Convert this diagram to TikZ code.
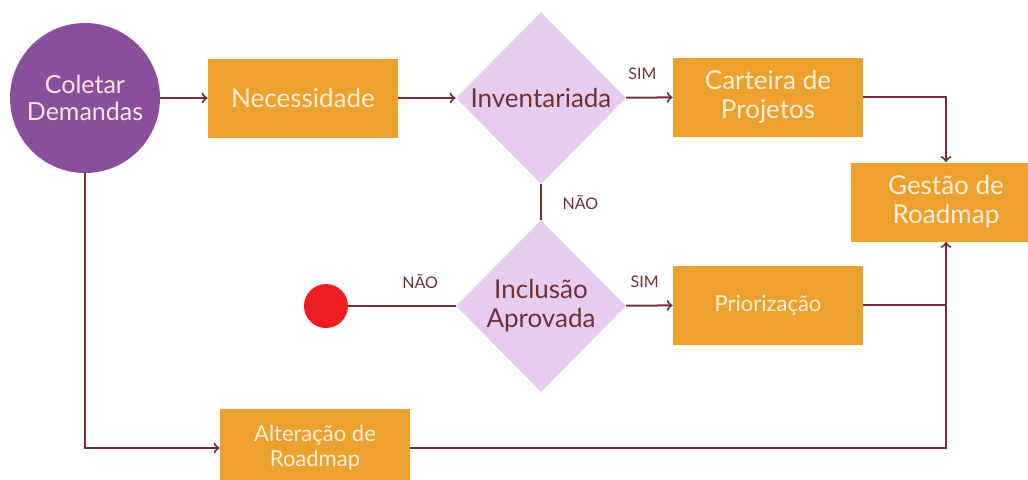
\documentclass[tikz,border=0pt]{standalone}
\usepackage{fontspec}
\setmainfont{Lato}
\usetikzlibrary{shapes.geometric}
\definecolor{roxo}{RGB}{138,79,155}
\definecolor{laranja}{RGB}{236,161,46}
\definecolor{lilas}{RGB}{230,205,240}
\definecolor{creme}{RGB}{253,238,214}
\definecolor{rosado}{RGB}{250,226,226}
\definecolor{vinho}{RGB}{112,48,52}
\definecolor{vermelho}{RGB}{238,32,36}
\begin{document}
\begin{tikzpicture}[x=0.5pt, y=-0.5pt,
    caixa/.style={rectangle, fill=laranja, text=creme, minimum width=95pt, minimum height=39.5pt, align=center, font=\fontsize{13}{14.5}\selectfont},
    decisao/.style={diamond, fill=lilas, text=vinho, minimum width=85pt, minimum height=86pt, inner sep=0pt, align=center, font=\fontsize{13}{14.5}\selectfont},
    rotulo/.style={text=vinho, font=\fontsize{8}{9}\selectfont},
    liga/.style={draw=vinho, line width=1pt}]
    \useasboundingbox (0,0) rectangle (1028,479);
    \node [circle, fill=roxo, text=rosado, minimum size=75pt, inner sep=0pt, align=center, font=\fontsize{12.5}{13.5}\selectfont] (coletar) at (85,98) {Coletar\\Demandas};
    \node [caixa] (necessidade) at (303,98) {Necessidade};
    \node [decisao] (inventariada) at (541,98) {Inventariada};
    \node [caixa] (carteira) at (768,97) {Carteira de\\Projetos};
    \node [caixa] (gestao) at (946,202) {Gestão de\\Roadmap};
    \node [decisao] (inclusao) at (541,306) {Inclusão\\Aprovada};
    \node [circle, fill=vermelho, minimum size=22pt, inner sep=0pt] (fim) at (326,306) {};
    \node [caixa, font=\fontsize{11}{12.5}\selectfont] (priorizacao) at (768,305) {Priorização};
    \node [caixa, font=\fontsize{11}{12.5}\selectfont] (alteracao) at (315,448) {Alteração de\\Roadmap};
    \draw [liga, ->] (coletar) -- (necessidade);
    \draw [liga, ->] (necessidade) -- (inventariada);
    \draw [liga, ->] (inventariada) -- node [rotulo, above=5pt, pos=0.35] {SIM} (carteira);
    \draw [liga, ->] (carteira.east) -| (gestao.north);
    \draw [liga] (inventariada.south) -- node [rotulo, right=7pt] {NÃO} (inclusao.north);
    \draw [liga, ->] (inclusao) -- node [rotulo, above=5pt, pos=0.4] {SIM} (priorizacao);
    \draw [liga] (inclusao) -- node [rotulo, above=5pt, pos=0.33] {NÃO} (fim);
    \draw [liga] (priorizacao.east) -- (priorizacao.east -| gestao.south);
    \draw [liga, ->] (alteracao.east) -| (gestao.south);
    \draw [liga, ->] (coletar.south) |- (alteracao.west);
\end{tikzpicture}
\end{document}
